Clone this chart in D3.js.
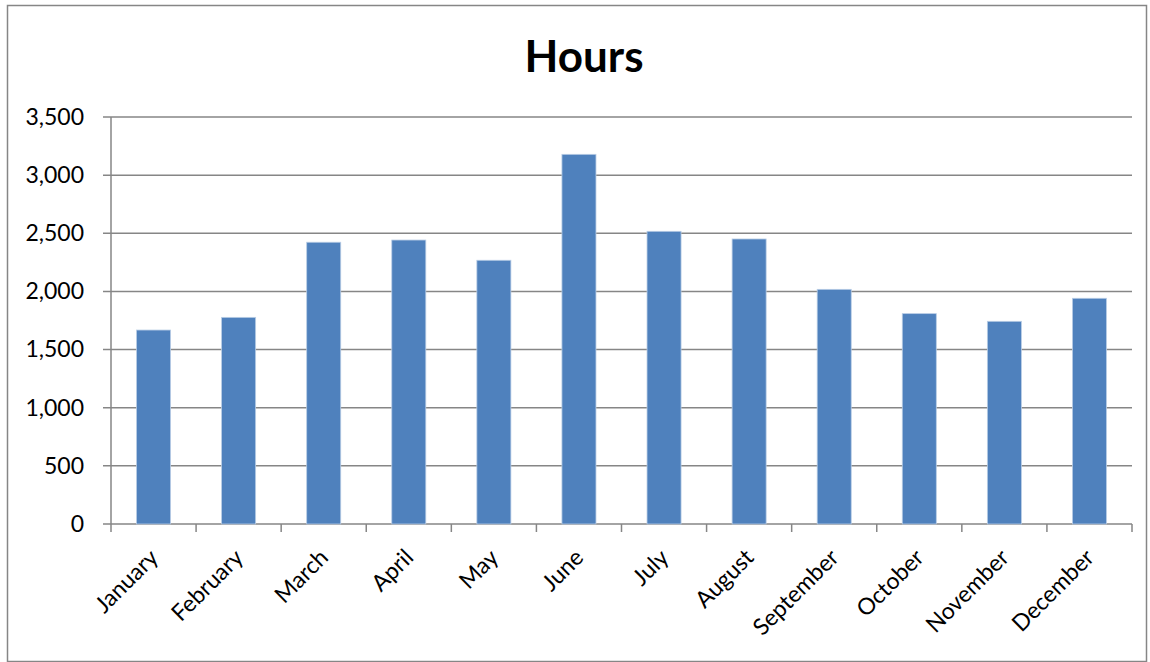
<!DOCTYPE html>
<html>
<head>
<meta charset="utf-8">
<script src="https://cdn.jsdelivr.net/npm/d3@7"></script>
<style>
  body { margin: 0; background: #fff; }
  svg { display: block; }
</style>
</head>
<body>
<script>
var months = ['January','February','March','April','May','June','July','August','September','October','November','December'];
var hours = [1668, 1777, 2423, 2442, 2268, 3179, 2517, 2451, 2018, 1809, 1743, 1941];
var yTicks = [0, 500, 1000, 1500, 2000, 2500, 3000, 3500];

var W = 1150, H = 662;
var margin = {top: 117, right: 18, bottom: 138, left: 111};
var width = W - margin.left - margin.right;
var height = H - margin.top - margin.bottom;
var gray = '#868686';

var svg = d3.select('body').append('svg')
  .attr('width', W)
  .attr('height', H);

// outer frame
svg.append('rect')
  .attr('x', 7.5).attr('y', 5.5)
  .attr('width', 1139).attr('height', 656)
  .style('fill', 'none')
  .style('stroke', gray)
  .style('stroke-width', 1.5);

svg.append('text')
  .attr('x', 584).attr('y', 72)
  .attr('text-anchor', 'middle')
  .style('font-family', 'Lato, sans-serif')
  .style('font-weight', 'bold')
  .style('font-size', '44px')
  .text('Hours');

var g = svg.append('g').attr('transform', 'translate(' + margin.left + ',' + margin.top + ')');

var x = d3.scaleBand().domain(months).range([0, width]).paddingInner(0.6).paddingOuter(0.3);
var y = d3.scaleLinear().domain([0, 3500]).range([height, 0]);

// gridlines
g.append('g').selectAll('line')
  .data(yTicks)
  .enter().append('line')
  .attr('x1', -8).attr('x2', width)
  .attr('y1', function(d){ return y(d); })
  .attr('y2', function(d){ return y(d); })
  .style('stroke', gray)
  .style('stroke-width', 1.5);

// bars
g.append('g').selectAll('rect')
  .data(hours)
  .enter().append('rect')
  .attr('x', function(d,i){ return x(months[i]); })
  .attr('y', function(d){ return y(d); })
  .attr('width', x.bandwidth())
  .attr('height', function(d){ return height - y(d); })
  .attr('fill', '#4F81BD')
  .style('stroke', '#B9CDE5')
  .style('stroke-width', 0.8);

// y axis
var yAxis = g.append('g')
  .call(d3.axisLeft(y).tickValues(yTicks).tickFormat(d3.format(',')).tickSize(0).tickPadding(27));
yAxis.select('.domain').remove();
yAxis.selectAll('text')
  .style('font-family', 'Lato, sans-serif')
  .style('font-size', '23px')
  .style('fill', '#000');

g.append('line')
  .attr('x1', 0).attr('x2', 0).attr('y1', 0).attr('y2', height)
  .style('stroke', gray).style('stroke-width', 1.5);

// x axis: tick marks at category boundaries
var bounds = d3.range(months.length + 1);
g.append('g').selectAll('line')
  .data(bounds)
  .enter().append('line')
  .attr('x1', function(d){ return d * width / months.length; })
  .attr('x2', function(d){ return d * width / months.length; })
  .attr('y1', height).attr('y2', height + 8)
  .style('stroke', gray).style('stroke-width', 1.5);

g.append('g').selectAll('text')
  .data(months)
  .enter().append('text')
  .attr('transform', function(d){
    var cx = x(d) + x.bandwidth() / 2;
    return 'translate(' + (cx + 6) + ',' + (height + 35) + ') rotate(-45)';
  })
  .attr('text-anchor', 'end')
  .style('font-family', 'Lato, sans-serif')
  .style('font-size', '23px')
  .text(function(d){ return d; });
</script>
</body>
</html>
